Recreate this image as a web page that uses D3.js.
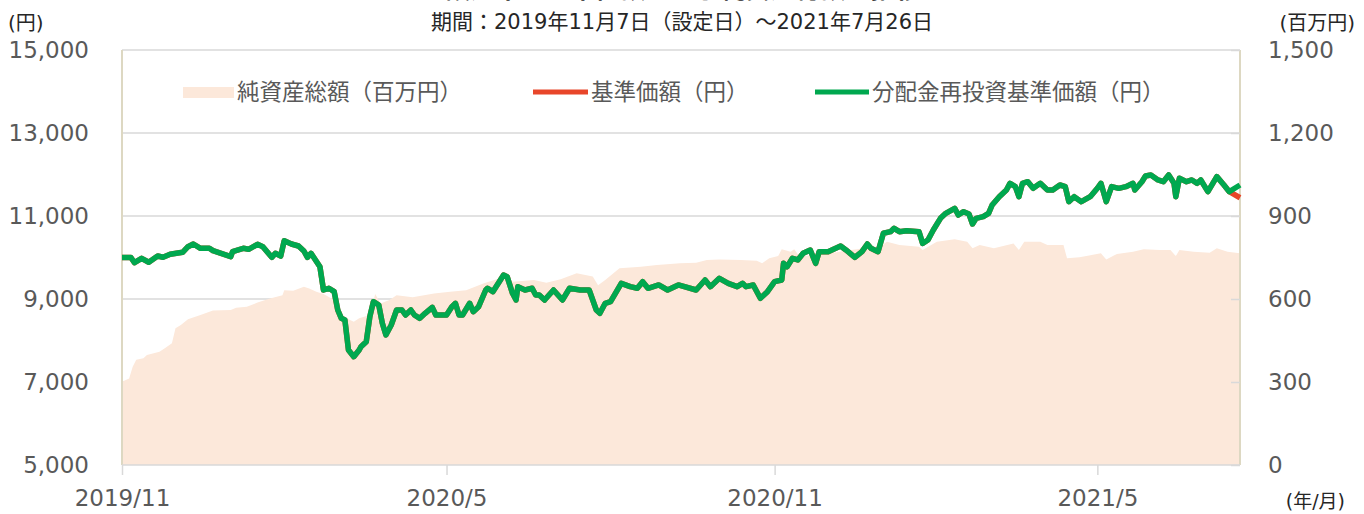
<!DOCTYPE html>
<html>
<head>
	<meta charset="utf-8">
	<title>設定来の基準価額等の推移</title>
	<style>
		body {
			margin: 0;
			background: #fff;
		}

		svg {
			display: block;
			font-family: 'DejaVu Sans', 'Noto Sans CJK JP', sans-serif;
		}
	</style>
</head>
<body>
<svg width='1364' height='514'></svg>
<script src='https://d3js.org/d3.v7.min.js'></script>
<script>

	// period of the chart (launch day -> last day)
	const launchDate = '2019-11-07'
	const endDate = '2021-07-26'

	// 分配金再投資基準価額 (円), days counted from the launch date
	const navDays = [0, 5, 7, 11, 15, 20, 23, 27, 34, 37, 40, 44, 49, 51, 61, 62, 68, 71, 76, 79,
		84, 86, 89, 91, 95, 99, 102, 104, 106, 111, 113, 116, 119, 121, 123, 125, 127, 130, 133, 134,
		137, 139, 141, 144, 146, 148, 151, 154, 157, 159, 162, 164, 167, 170, 174, 176, 182, 185, 187, 189,
		191, 195, 197, 200, 204, 205, 208, 214, 216, 219, 221, 222, 226, 230, 232, 234, 237, 242, 247, 251,
		257, 262, 266, 268, 271, 274, 280, 285, 289, 292, 295, 301, 306, 312, 322, 327, 330, 335, 340, 345,
		348, 350, 354, 358, 362, 366, 370, 371, 373, 376, 379, 382, 386, 389, 391, 396, 403, 406, 411, 415,
		418, 420, 424, 427, 431, 433, 436, 440, 447, 449, 452, 455, 459, 462, 467, 469, 472, 475, 477, 479,
		483, 486, 488, 492, 496, 498, 501, 503, 505, 508, 511, 515, 519, 522, 526, 529, 531, 534, 538, 543,
		547, 549, 552, 555, 559, 563, 567, 568, 572, 574, 577, 581, 584, 587, 590, 591, 593, 597, 600, 603,
		605, 609, 614, 618, 621, 627]
	const navReinvested = [10000, 10000, 9875, 9980, 9885, 10036, 10005, 10077, 10125, 10260, 10325, 10222, 10222, 10165, 10020, 10140, 10222, 10198, 10318, 10260,
		10005, 10101, 10036, 10405, 10325, 10277, 10157, 10005, 10101, 9778, 9217, 9258, 9177, 8735, 8535, 8494, 7771, 7610, 7771, 7851,
		7971, 8574, 8935, 8855, 8414, 8133, 8373, 8735, 8735, 8615, 8735, 8615, 8534, 8655, 8800, 8615, 8615, 8815, 8896, 8615,
		8615, 8897, 8694, 8815, 9217, 9258, 9177, 9578, 9538, 9137, 8976, 9297, 9217, 9258, 9097, 9097, 8976, 9217, 8976, 9258,
		9217, 9217, 8735, 8655, 8896, 8935, 9378, 9297, 9258, 9418, 9258, 9338, 9217, 9338, 9217, 9458, 9297, 9498, 9378, 9297,
		9378, 9297, 9338, 9017, 9177, 9418, 9458, 9859, 9778, 9980, 9940, 10101, 10181, 9859, 10141, 10141, 10277, 10181, 10005, 10141,
		10325, 10222, 10141, 10583, 10622, 10703, 10622, 10646, 10622, 10341, 10422, 10663, 10944, 11064, 11185, 11024, 11104, 11048, 10807, 10944,
		10984, 11064, 11265, 11465, 11626, 11787, 11707, 11465, 11787, 11827, 11667, 11787, 11626, 11626, 11747, 11707, 11345, 11465, 11345, 11465,
		11667, 11787, 11345, 11707, 11667, 11707, 11787, 11626, 11827, 11964, 11988, 11868, 11827, 11988, 11787, 11465, 11908, 11827, 11868, 11787,
		11868, 11586, 11948, 11747, 11586, 11747]

	// 基準価額 (円) is the same as the reinvested one until the distribution
	// just before the end, where it falls to this value
	const navBaseLast = 11440

	// 純資産総額 (百万円)
	const assetDays = [0, 4, 6, 8, 12, 14, 21, 24, 28, 30, 33, 37, 44, 51, 61, 64, 70, 76, 83, 90,
		91, 96, 102, 105, 109, 113, 119, 124, 130, 133, 139, 142, 145, 150, 154, 163, 175, 184, 193, 203,
		212, 219, 231, 238, 246, 255, 264, 267, 271, 279, 291, 300, 313, 322, 328, 335, 347, 356, 359, 363,
		368, 370, 375, 377, 380, 388, 397, 406, 416, 425, 429, 436, 447, 449, 457, 467, 474, 477, 481, 489,
		500, 503, 506, 515, 519, 528, 530, 537, 549, 552, 558, 567, 573, 582, 588, 591, 593, 601, 610, 614,
		620, 627]
	const netAssets = [301, 313, 355, 380, 386, 398, 409, 422, 440, 494, 506, 527, 542, 558, 560, 568, 572, 587, 602, 614,
		632, 630, 644, 638, 626, 618, 596, 536, 518, 530, 542, 618, 584, 596, 614, 606, 620, 626, 632, 657,
		675, 662, 669, 659, 671, 693, 681, 650, 669, 711, 717, 723, 729, 731, 741, 743, 741, 738, 729, 747,
		755, 780, 771, 780, 753, 759, 765, 774, 783, 789, 807, 795, 789, 777, 807, 816, 807, 783, 795, 783,
		801, 777, 807, 807, 795, 795, 747, 751, 765, 743, 763, 771, 780, 777, 777, 755, 777, 771, 767, 783,
		771, 765]

	// axis ticks
	const xTicks = ['2019-11-07', '2020-05-07', '2020-11-07', '2021-05-07']
	const leftTicks = [5000, 7000, 9000, 11000, 13000, 15000]
	const rightTicks = [0, 300, 600, 900, 1200, 1500]

	const legendLabels = ['純資産総額（百万円）', '基準価額（円）', '分配金再投資基準価額（円）']
	const titleText = '【設定来の基準価額および純資産総額の推移】'
	const periodText = '期間：2019年11月7日（設定日）～2021年7月26日'

	const colors = {
		area: '#fce8da',
		nav: '#e8462a',
		reinvest: '#00a84f',
		grid: '#d9d9d9',
		frame: '#ddd8c2',
		label: '#595959',
		dark: '#262626'
	}

	let parse = d3.timeParse('%Y-%m-%d')
	let start = parse(launchDate)
	let dayToDate = d => d3.timeDay.offset(start, d)

	let reinvestData = navDays.map((d, i) => ({ date: dayToDate(d), v: navReinvested[i] }))
	let navData = reinvestData.map((d, i) => ({
		date: d.date,
		v: i === reinvestData.length - 1 ? navBaseLast : d.v
	}))
	let assetData = assetDays.map((d, i) => ({ date: dayToDate(d), v: netAssets[i] }))

	let plotLeft = 122, plotRight = 1240, plotTop = 50, plotBottom = 465

	let x = d3.scaleTime()
		.domain([start, parse(endDate)])
		.range([plotLeft, plotRight])

	let yL = d3.scaleLinear().domain([5000, 15000]).range([plotBottom, plotTop])
	let yR = d3.scaleLinear().domain([0, 1500]).range([plotBottom, plotTop])

	let svg = d3.select('svg')

	// horizontal gridlines
	svg.append('g')
		.selectAll('line')
		.data(leftTicks.slice(1))
		.join('line')
		.attr('x1', plotLeft)
		.attr('x2', plotRight)
		.attr('y1', d => yL(d))
		.attr('y2', d => yL(d))
		.style('stroke', colors.grid)
		.style('stroke-width', 1.5)

	// net assets area
	let area = d3.area()
		.x(d => x(d.date))
		.y0(yR(0))
		.y1(d => yR(d.v))

	svg.append('path')
		.datum(assetData)
		.attr('d', area)
		.style('fill', colors.area)

	// side frame lines
	svg.append('g')
		.selectAll('line')
		.data([plotLeft, plotRight])
		.join('line')
		.attr('x1', d => d)
		.attr('x2', d => d)
		.attr('y1', plotTop)
		.attr('y2', plotBottom)
		.style('stroke', colors.frame)
		.style('stroke-width', 2)

	// left axis
	let axisL = svg.append('g')
		.attr('transform', `translate(${plotLeft},0)`)
		.call(d3.axisLeft(yL).tickValues(leftTicks).tickFormat(d3.format(',')).tickSize(0).tickPadding(33))
	axisL.select('.domain').remove()

	// right axis, short inner ticks
	let axisR = svg.append('g')
		.attr('transform', `translate(${plotRight},0)`)
		.call(d3.axisRight(yR).tickValues(rightTicks).tickFormat(d3.format(',')).tickSize(-9).tickPadding(28))
	axisR.select('.domain').remove()

	// bottom axis
	let axisB = svg.append('g')
		.attr('transform', `translate(0,${plotBottom})`)
		.call(d3.axisBottom(x).tickValues(xTicks.map(parse)).tickFormat(d3.timeFormat('%Y/%-m')).tickSize(10).tickPadding(15))
	axisB.select('.domain')
		.attr('d', `M${plotLeft},0H${plotRight}`)

	svg.selectAll('.tick line, .domain')
		.style('stroke', colors.grid)
		.style('stroke-width', 1.5)

	svg.selectAll('.tick text')
		.attr('font-size', 23)
		.attr('font-family', "'DejaVu Sans', sans-serif")
		.style('fill', colors.label)

	// lines, 基準価額 under the reinvested one
	let line = d3.line()
		.x(d => x(d.date))
		.y(d => yL(d.v))

	svg.append('path')
		.datum(navData)
		.attr('d', line)
		.style('fill', 'none')
		.style('stroke', colors.nav)
		.style('stroke-width', 5.5)
		.style('stroke-linejoin', 'round')

	svg.append('path')
		.datum(reinvestData)
		.attr('d', line)
		.style('fill', 'none')
		.style('stroke', colors.reinvest)
		.style('stroke-width', 5.5)
		.style('stroke-linejoin', 'round')

	// legend
	let legend = svg.append('g')
		.attr('font-size', 22.5)
		.style('fill', colors.label)

	legend.append('rect')
		.attr('x', 183).attr('y', 87)
		.attr('width', 51).attr('height', 11)
		.style('fill', colors.area)

	let legendLines = [[533, 588, colors.nav], [815, 869, colors.reinvest]]
	legend.selectAll('line')
		.data(legendLines)
		.join('line')
		.attr('x1', d => d[0])
		.attr('x2', d => d[1])
		.attr('y1', 92)
		.attr('y2', 92)
		.style('stroke', d => d[2])
		.style('stroke-width', 5)

	legend.selectAll('text')
		.data(legendLabels)
		.join('text')
		.attr('x', (d, i) => [237, 591, 872][i])
		.attr('y', 100)
		.text(d => d)

	// titles and units (the title is cut off at the top edge, as in the original)
	svg.append('text')
		.attr('x', 683)
		.attr('y', -2)
		.attr('text-anchor', 'middle')
		.attr('font-size', 25)
		.attr('font-weight', 'bold')
		.style('fill', colors.dark)
		.text(titleText)

	svg.append('text')
		.attr('x', 682)
		.attr('y', 29)
		.attr('text-anchor', 'middle')
		.attr('font-size', 21)
		.style('fill', colors.dark)
		.text(periodText)

	let units = [[8, 30, '(円)', 'start', 20], [1355, 30, '(百万円)', 'end', 20], [1345, 508, '(年/月)', 'end', 19]]
	svg.append('g')
		.selectAll('text')
		.data(units)
		.join('text')
		.attr('x', d => d[0])
		.attr('y', d => d[1])
		.attr('text-anchor', d => d[3])
		.attr('font-size', d => d[4])
		.style('fill', colors.dark)
		.text(d => d[2])

</script>
</body>
</html>
